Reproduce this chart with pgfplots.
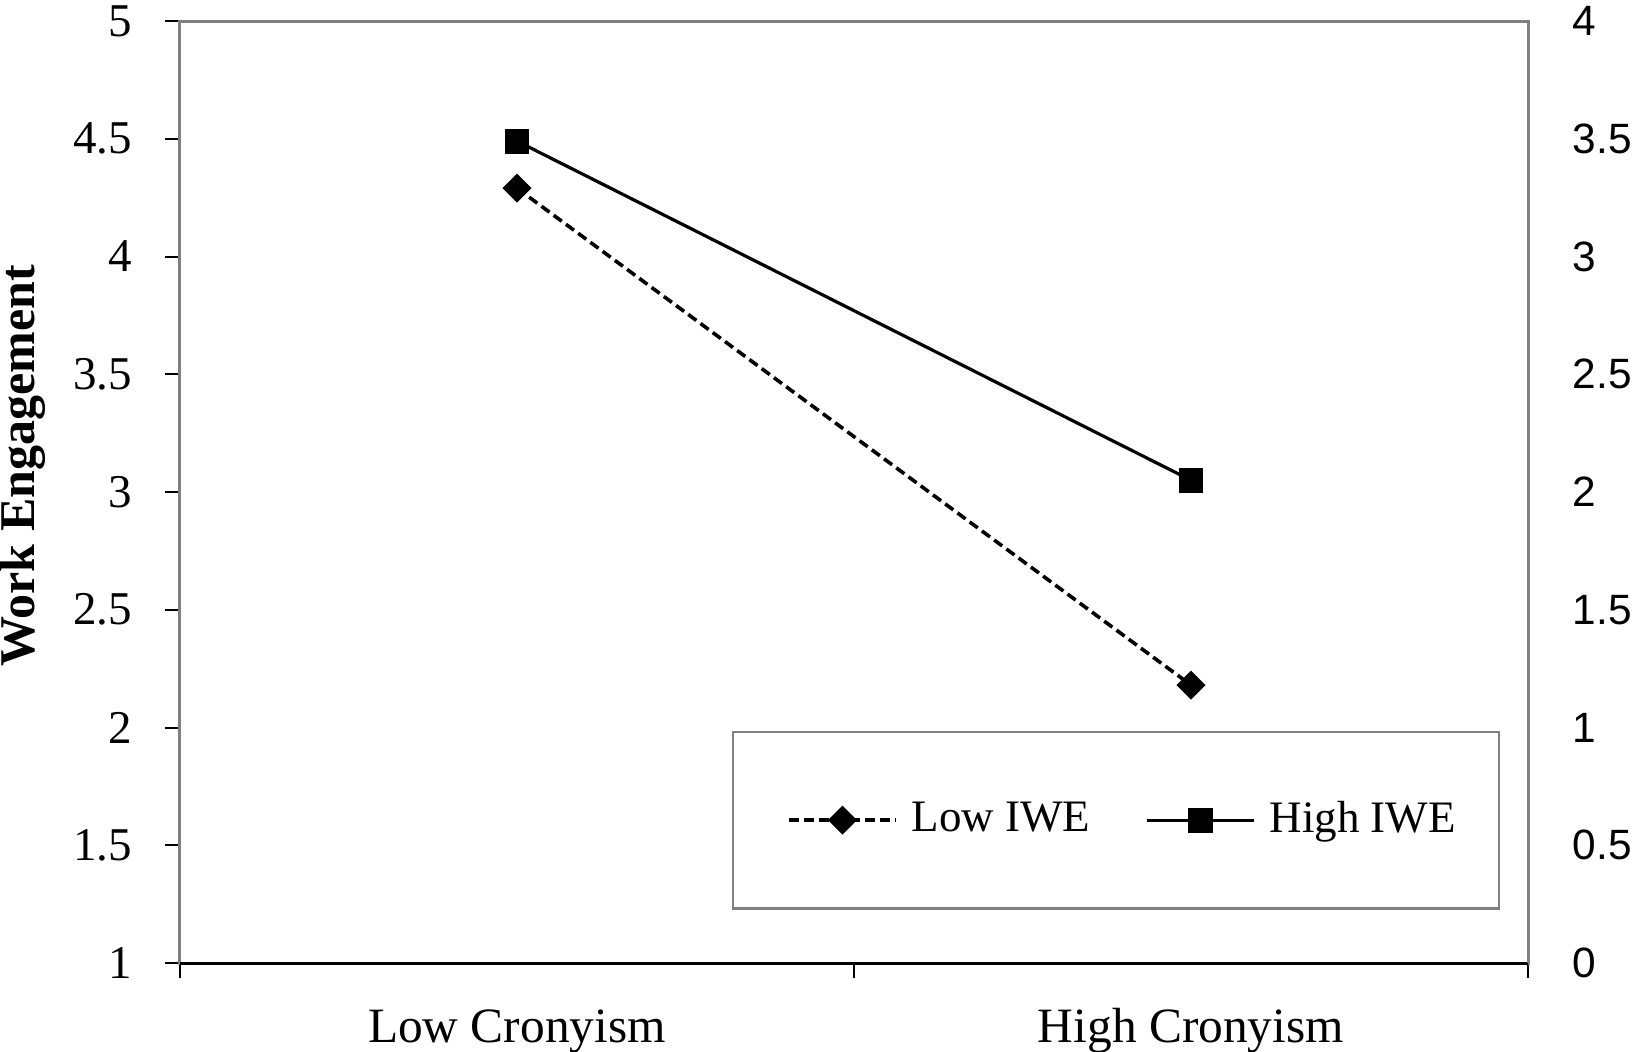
\documentclass[border=0pt]{standalone}
\usepackage{fontspec}
\setmainfont{Liberation Serif}
\newfontfamily\arialfont{Liberation Sans}
\usepackage{pgfplots}
\pgfplotsset{compat=1.18}
\definecolor{framegray}{RGB}{128,128,128}
\pgfplotsset{
  legA/.style={legend image code/.code={\path (-4.3pt,0pt) (28.75pt,0pt);
     \draw[mark repeat=2, mark phase=2, ##1] plot coordinates {(0pt,0pt) (13.375pt,0pt) (26.75pt,0pt)};}},
  legB/.style={legend image code/.code={\path (0pt,0pt) (28.75pt,0pt);
     \draw[mark repeat=2, mark phase=2, ##1] plot coordinates {(0pt,0pt) (13.375pt,0pt) (26.75pt,0pt)};}},
}
\begin{document}
\begin{tikzpicture}
\useasboundingbox (0,0) rectangle (410pt,262.75pt);
\begin{axis}[
  at={(45pt,22pt)}, anchor=south west,
  scale only axis, width=337pt, height=235.5pt,
  xmin=-0.5, xmax=1.5, ymin=1, ymax=5,
  axis line style={draw=framegray, line width=0.75pt},
  xtick={-0.5,0.5,1.5}, xticklabels={},
  xtick pos=left, ytick pos=left,
  extra x ticks={0,1},
  extra x tick labels={Low Cronyism, High Cronyism},
  extra x tick style={major tick length=0pt,
     tick label style={font=\fontsize{12.35}{14}\selectfont, anchor=base, yshift=-19.75pt}},
  ytick={1,1.5,...,5},
  tick align=outside, major tick length=3.75pt,
  tick style={black, line width=0.5pt},
  /pgf/number format/assume math mode=true,
  yticklabel style={font=\fontsize{11.75}{14}\selectfont, anchor=east, inner sep=0pt, xshift=-8pt},
  ylabel={\bfseries Work Engagement},
  ylabel style={font=\fontsize{12.5}{15}\selectfont, at={(axis description cs:-0.1076,0.5276)}, anchor=base},
  legend columns=2,
  legend cell align=left,
  legend style={at={(axis description cs:0.4093,0.2466)}, anchor=north west,
     draw=framegray, line width=0.6pt, inner xsep=9.25pt, inner ysep=15.9pt,
     nodes={inner sep=1.5pt, text depth=0.15em},
     font=\fontsize{11.25}{13}\selectfont,
     /tikz/every even column/.append style={column sep=12.25pt}},
]
\addplot[black, line width=0.9pt, dash pattern=on 2.5pt off 1.3pt,
   mark=square*, mark size=2.12pt, mark options={solid, rotate=45}, legA]
   coordinates {(0,4.29) (1,2.18)};
\addlegendentry{Low IWE}
\addplot[black, line width=0.8pt, mark=square*, mark size=2.7pt, mark options={solid}, legB]
   coordinates {(0,4.49) (1,3.05)};
\addlegendentry{High IWE}
\end{axis}
\begin{axis}[
  at={(45pt,22pt)}, anchor=south west,
  scale only axis, width=337pt, height=235.5pt,
  xmin=-0.5, xmax=1.5, ymin=0, ymax=4,
  axis x line*=bottom, axis y line*=right,
  x axis line style={draw=black, line width=0.75pt, -},
  y axis line style={draw=framegray, line width=0.75pt, -},
  xtick=\empty, ytick={0,0.5,...,4}, major tick length=0pt,
  /pgf/number format/assume math mode=true,
  yticklabel style={font=\arialfont\fontsize{10.6}{13}\selectfont, anchor=west, inner sep=0pt, xshift=11pt},
]
\addplot[draw=none] coordinates {(0,0)};
\end{axis}
\end{tikzpicture}
\end{document}
